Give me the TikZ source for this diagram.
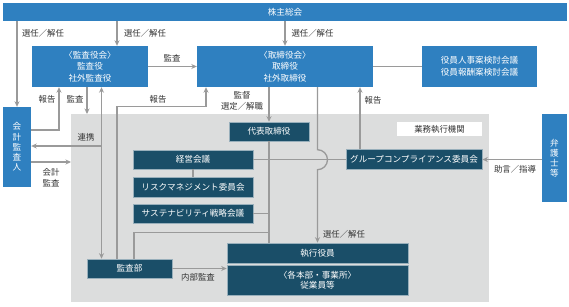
\documentclass[tikz,border=0pt]{standalone}
\usepackage{fontspec}
\setmainfont{Noto Sans CJK JP}
\usetikzlibrary{arrows.meta, positioning, calc}
\definecolor{kblue}{HTML}{2F80C0}
\definecolor{kteal}{HTML}{1A4E68}
\definecolor{kgray}{HTML}{9A9A9A}
\definecolor{kbg}{HTML}{DCDDDD}
\definecolor{ktext}{HTML}{333333}

\begin{document}
\begin{tikzpicture}[x=1pt, y=-1pt,
  bluebox/.style={fill=kblue, text=white, inner sep=0pt, align=center,
    font=\fontsize{8.6}{11.5}\selectfont},
  tealbox/.style={fill=kteal, draw=white!55!kteal, line width=0.6pt, text=white,
    inner sep=0pt, align=center, font=\fontsize{8.6}{10.5}\selectfont},
  conn/.style={draw=kgray, line width=1.3pt},
  arr/.style={conn, -{Stealth[length=5.5pt, width=5pt]}},
  arrboth/.style={conn, {Stealth[length=5.5pt, width=5pt]}-{Stealth[length=5.5pt, width=5pt]}},
  lbl/.style={font=\fontsize{8.4}{11}\selectfont, text=ktext, inner sep=0pt, align=center}]
\useasboundingbox (0,0) rectangle (569,306);
\fill[white] (0,0) rectangle (569,306);
% 業務執行機関
\fill[kbg] (71,114) rectangle (489,302);
\node[fill=white, minimum width=85, minimum height=14, inner sep=0pt, lbl] (gyomu) at (439.5,129) {業務執行機関};

\node[bluebox, minimum width=564, minimum height=18] (soukai) at (285,12) {株主総会};
\node[bluebox, minimum width=116, minimum height=41] (kansayaku) at (90,66.5) {〈監査役会〉\\監査役\\社外監査役};
\node[bluebox, minimum width=176, minimum height=41] (torishimari) at (285,66.5) {〈取締役会〉\\取締役\\社外取締役};
\node[bluebox, minimum width=115, minimum height=41] (jinji) at (479.5,66.5) {役員人事案検討会議\\役員報酬案検討会議};
\node[bluebox, minimum width=28, minimum height=80, font=\fontsize{8.6}{10.3}\selectfont] (kaikei) at (17,147) {会\\計\\監\\査\\人};
\node[bluebox, minimum width=25, minimum height=88, font=\fontsize{8.6}{10}\selectfont] (bengoshi) at (554.5,158) {弁\\護\\士\\等};

\node[tealbox, minimum width=80, minimum height=19] (daihyo) at (269,131.5) {代表取締役};
\node[tealbox, minimum width=120, minimum height=19] (keiei) at (193,159.5) {経営会議};
\node[tealbox, minimum width=120, minimum height=20] (risk) at (193,187) {リスクマネジメント委員会};
\node[tealbox, minimum width=120, minimum height=19] (sustain) at (193,213.5) {サステナビリティ戦略会議};
\node[tealbox, minimum width=136, minimum height=20] (compliance) at (414,159.5) {グループコンプライアンス委員会};
\node[tealbox, minimum width=85, minimum height=19] (kansabu) at (129.5,268.5) {監査部};
\node[tealbox, minimum width=181, minimum height=20] (shikko) at (317.5,253) {執行役員};
\node[tealbox, minimum width=181, minimum height=30] (jugyoin) at (317.5,280) {〈各本部・事業所〉\\従業員等};

% 株主総会から
\coordinate (kIn) at ([xshift=27pt]kansayaku.north);
\draw[arr] (soukai.south -| kaikei.north) -- (kaikei.north);
\draw[arr] (soukai.south -| kIn) -- (kIn);
\draw[arr] (soukai.south) -- (torishimari.north);
\node[lbl] (sen1) at (43,33) {選任／解任};
\node[lbl] (sen2) at (145,33) {選任／解任};
\node[lbl] (sen3) at (312.5,33) {選任／解任};

\draw[arr] (kansayaku) -- (torishimari);
\node[lbl] (kansa1) at (172,58) {監査};
\draw[conn] (torishimari) -- (jinji);

% 会計監査人
\coordinate (kHou) at ([xshift=-31pt]kansayaku.south);
\draw[arr] ([yshift=17pt]kaikei.east) -| (kHou);
\node[lbl] (hou1) at (47,99) {報告};
\coordinate (gTop) at (87,114);
\draw[arr] ([xshift=-3pt]kansayaku.south) -- (gTop);
\node[lbl] (kansa2) at (75,99) {監査};
\draw[arrboth] ([xshift=-28pt]kansabu.north) -- ([xshift=-28pt]kansabu.north |- kansayaku.south);
\coordinate (renkei) at (101.5,146);
\draw[arr] (renkei) -- (renkei -| kaikei.east);
\node[lbl] (renkeiLbl) at (86,137) {連携};
\coordinate (gLeft) at (71,162);
\draw[arr] ([yshift=-15pt]kaikei.east) -- (gLeft);
\node[lbl] (kaikeiLbl) at (51,177.5) {会計\\監査};

% 監査部から取締役会
\coordinate (tHou) at ([xshift=-79pt]torishimari.south);
\draw[arr] ([xshift=-12.5pt]kansabu.north) -- ++(0,-152) -| (tHou);
\node[lbl] (hou2) at (158,99) {報告};

% 取締役会から
\draw[arr] (torishimari.south -| daihyo.north) -- (daihyo.north);
\node[lbl] (kantoku) at (242,100.5) {監督\\選定／解職};
\draw[conn] (daihyo.south) -- (daihyo.south |- shikko.north);
\draw[conn] (keiei.east) -- (keiei.east -| compliance.west);
\draw[arr] (torishimari.south -| shikko.north) -- ++(0,62.5)
  arc[start angle=-90, end angle=90, radius=10] -- (shikko.north);
\node[lbl] (sen4) at (344,234) {選任／解任};
\draw[arr] ([xshift=-54pt]compliance.north) -- ([xshift=-54pt]compliance.north |- torishimari.south);
\node[lbl] (hou3) at (373,100) {報告};
\draw[arr] (bengoshi.west |- compliance.east) -- (compliance.east);
\node[lbl] (jogen) at (515,169) {助言／指導};

% 業務執行機関の中
\draw[conn] (keiei) -- (risk);
\draw[conn] (sustain.east) -- (sustain.east -| daihyo.south);
\draw[conn] ([xshift=4.5pt]kansabu.north) -- ++(0,-26) -| (daihyo.south);
\draw[arr] (kansabu.east) -- (kansabu.east -| shikko.west);
\node[lbl] (naibu) at (198,277) {内部監査};
\end{tikzpicture}
\end{document}
